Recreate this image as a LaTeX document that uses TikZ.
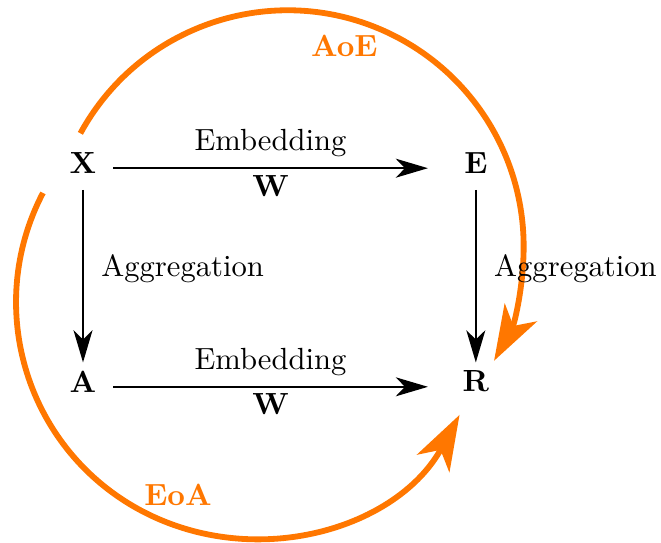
\documentclass[tikz,border=0pt]{standalone}
\usepackage{amsmath}
\usepackage{xcolor}
\usepackage{tikz}
\usetikzlibrary{arrows.meta}
\definecolor{loopcolor}{RGB}{255,119,0}

\begin{document}
\begin{tikzpicture}[line join = round,
    obj/.style={font=\bfseries},
    map/.style={semithick, -{Stealth[length=10.5pt,width=6.2pt,inset=3pt]}},
    maplabel/.style={inner sep=0pt},
    loop/.style={loopcolor, line width=1.9pt, -{Stealth[length=18pt,width=12pt,inset=5pt]}},
    looplabel/.style={loopcolor, font=\bfseries}]

    \useasboundingbox (-0.953,-4.352) rectangle (6.636,1.871);

    % objects
    \node[obj] (X) at (0,0) {X};
    \node[obj] (E) at (4.51,0) {E};
    \node[obj] (A) at (0,-2.51) {A};
    \node[obj] (R) at (4.51,-2.51) {R};

    % composites
    \draw[loop] ([shift={(-0.03,0.34)}]X.center) arc[start angle=151.4, end angle=-29, radius=2.71];
    \draw[loop] ([shift={(-0.46,-0.344)}]X.center) arc[start angle=152.4, end angle=331.5, radius=2.71];
    \node[looplabel] (AoE) at (3.0,1.34) {AoE};
    \node[looplabel] (EoA) at (1.09,-3.81) {EoA};

    % embedding
    \draw[map] ([shift={(0.345,-0.06)}]X.center) -- ([shift={(-0.55,-0.06)}]E.center)
        node[midway, above] {Embedding}
        node[midway, below, inner sep=2pt] {\textbf{W}};
    \draw[map] ([shift={(0.345,-0.06)}]A.center) -- ([shift={(-0.55,-0.06)}]R.center)
        node[midway, above] {Embedding}
        node[midway, below, inner sep=2pt] {\textbf{W}};

    % aggregation
    \draw[map] ([yshift=-0.31cm]X.center) -- ([yshift=0.22cm]A.center)
        node[midway, right=5.7pt, maplabel, yshift=2.5pt] {Aggregation};
    \draw[map] ([yshift=-0.31cm]E.center) -- ([yshift=0.22cm]R.center)
        node[midway, right=5.7pt, maplabel, yshift=2.5pt] {Aggregation};

\end{tikzpicture}
\end{document}
